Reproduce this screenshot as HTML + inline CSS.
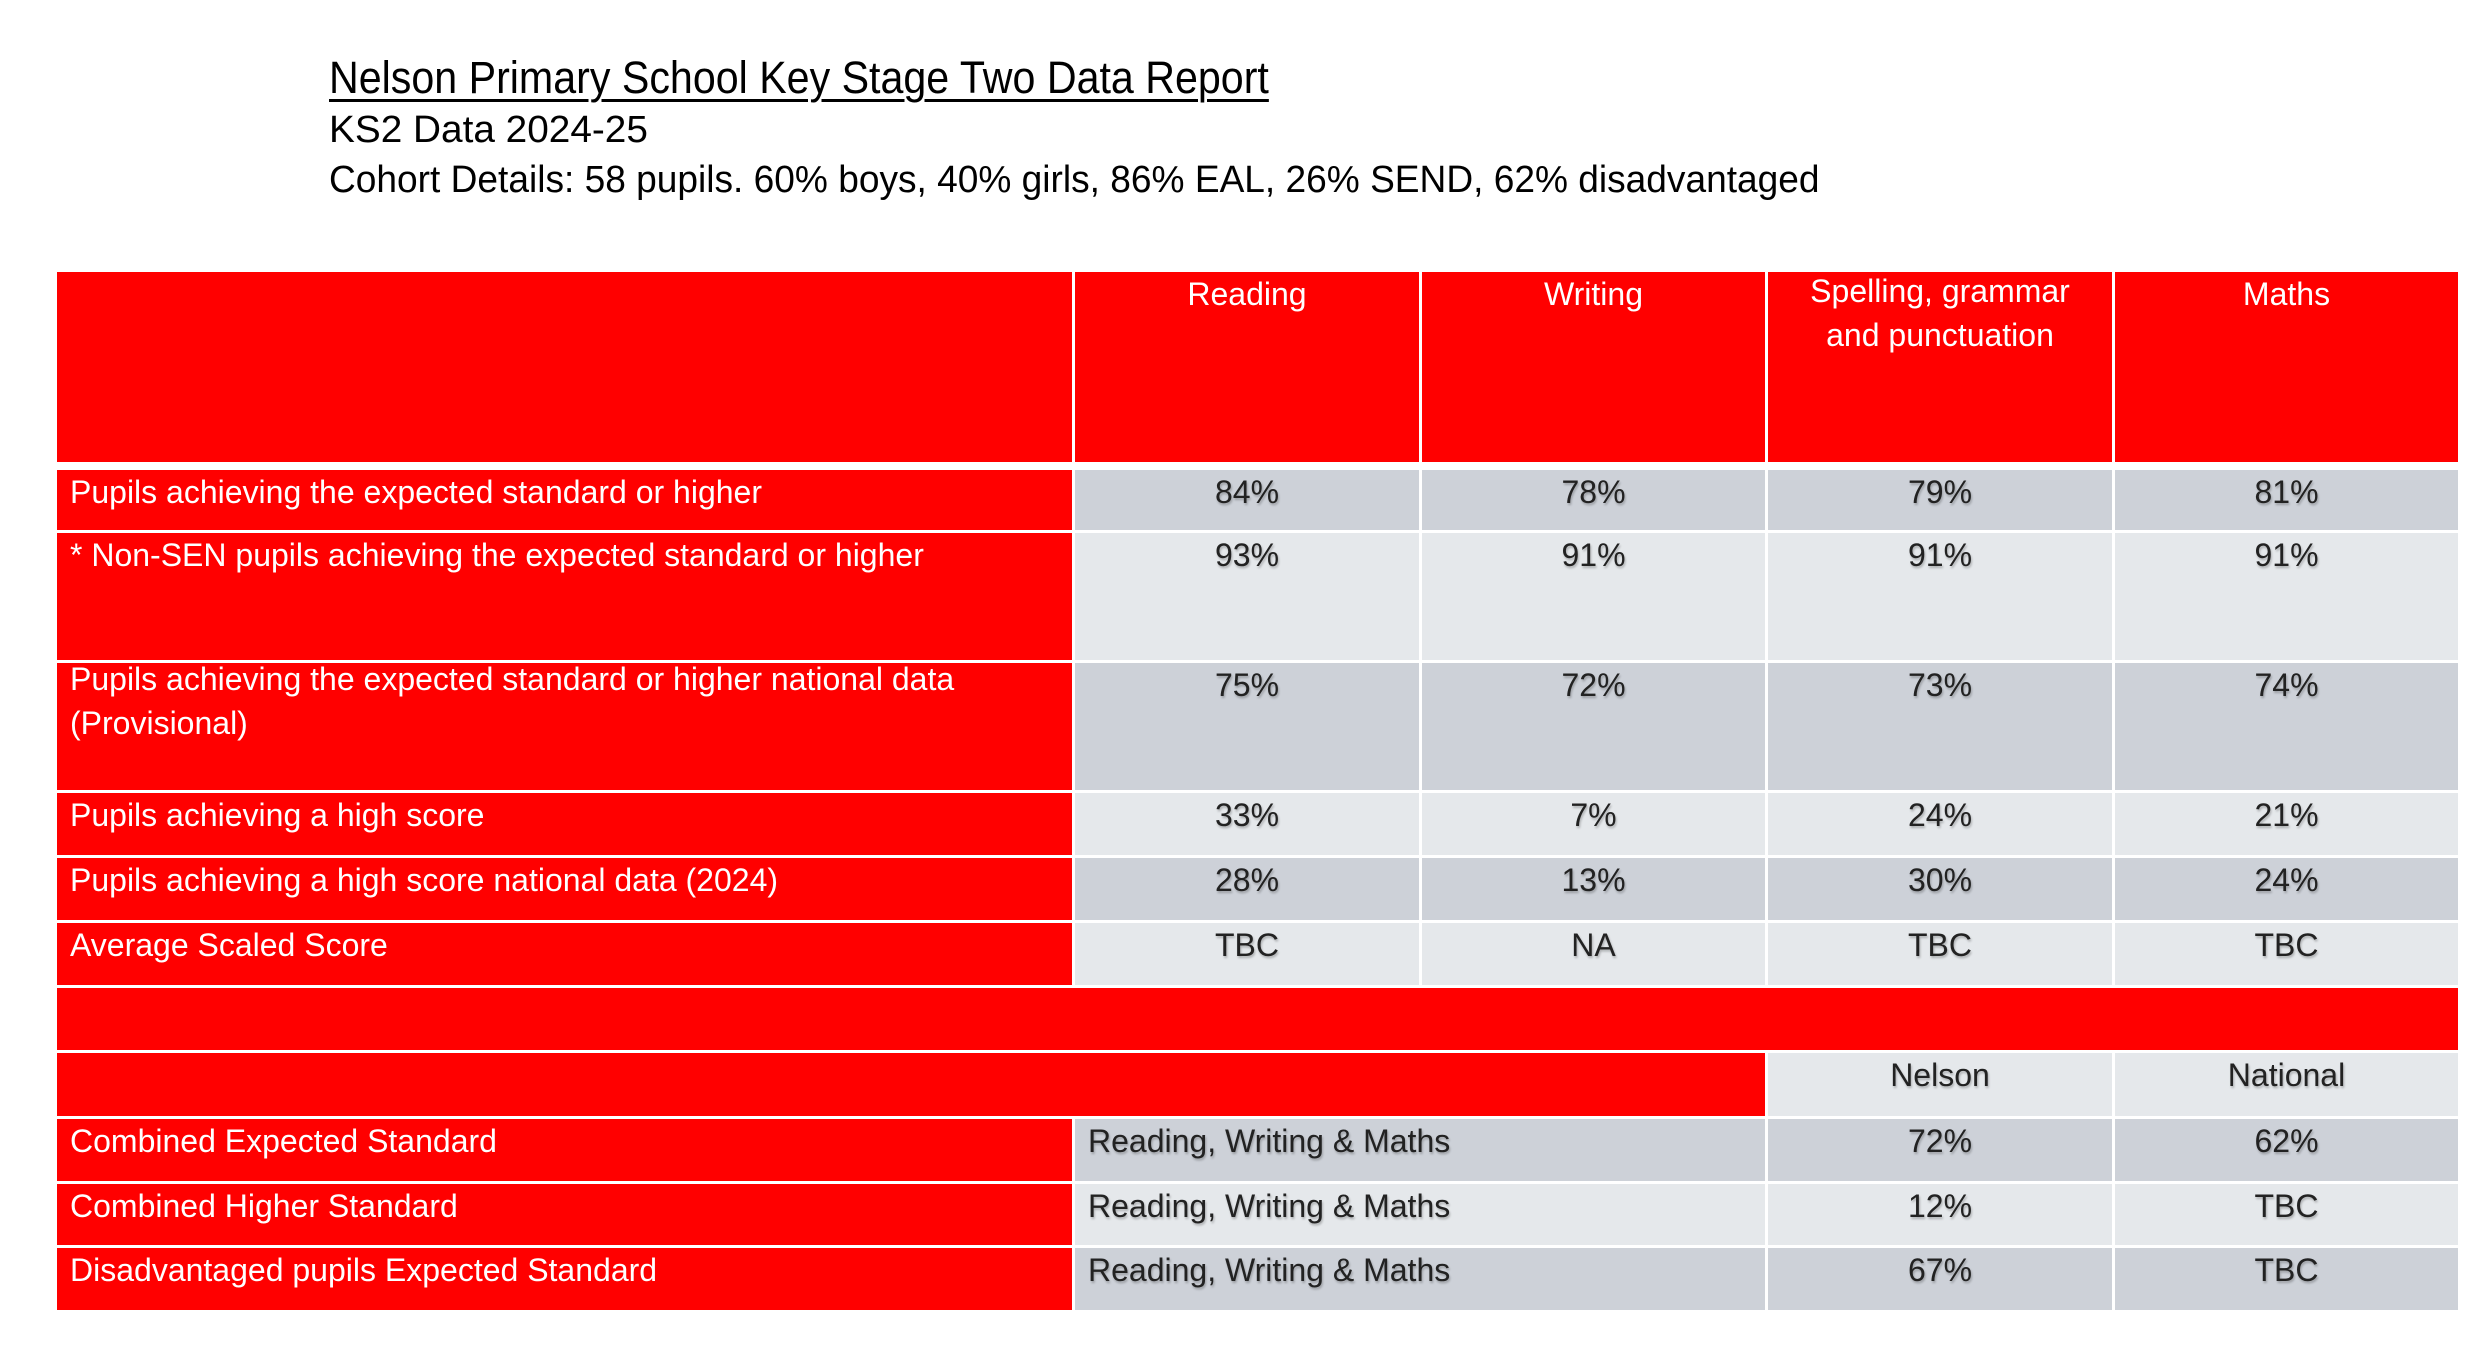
<!DOCTYPE html>
<html><head><meta charset="utf-8"><style>
body{margin:0;width:2480px;height:1362px;background:#fff;position:relative;overflow:hidden;font-family:"Liberation Sans",sans-serif}
.t{position:absolute;left:329px;white-space:nowrap;color:#000;transform-origin:left top}
.c{position:absolute;box-sizing:border-box;font-size:32px;line-height:44px;padding-top:0;overflow:visible}
.c>span{display:inline-block;white-space:nowrap}
.r{background:#ff0000;color:#fff;padding-left:13px}
.g{background:#cdd1d8;color:#222;text-align:center}
.l{background:#e5e8eb;color:#222;text-align:center}
.g>span,.l>span{text-shadow:1px 2px 2px rgba(0,0,0,0.25)}
.left{text-align:left;padding-left:13px}
.in{margin-top:-6px}
</style></head><body>
<div class="t" style="top:52px;font-size:45px;transform:scaleX(0.915);text-decoration:underline;text-decoration-thickness:3px;text-underline-offset:6px">Nelson Primary School Key Stage Two Data Report</div>
<div class="t" style="top:109px;font-size:38px;transform:scaleX(1.02)">KS2 Data 2024-25</div>
<div class="t" style="top:159px;font-size:38px;transform:scaleX(0.976)">Cohort Details: 58 pupils. 60% boys, 40% girls, 86% EAL, 26% SEND, 62% disadvantaged</div>

<div class="c r" style="left:57px;top:272px;width:1015px;height:190px"></div>
<div class="c r" style="left:1075px;top:272px;width:344px;height:190px;text-align:center;padding:0"><span class="in">Reading</span></div>
<div class="c r" style="left:1422px;top:272px;width:343px;height:190px;text-align:center;padding:0"><span class="in">Writing</span></div>
<div class="c r" style="left:1768px;top:272px;width:344px;height:190px;text-align:center;padding:0"><span class="in" style="margin-top:-3px">Spelling, grammar<br>and punctuation</span></div>
<div class="c r" style="left:2115px;top:272px;width:343px;height:190px;text-align:center;padding:0"><span class="in">Maths</span></div>

<div class="c r" style="left:57px;top:470px;width:1015px;height:60px"><span class="in">Pupils achieving the expected standard or higher</span></div>
<div class="c g" style="left:1075px;top:470px;width:344px;height:60px"><span class="in">84%</span></div>
<div class="c g" style="left:1422px;top:470px;width:343px;height:60px"><span class="in">78%</span></div>
<div class="c g" style="left:1768px;top:470px;width:344px;height:60px"><span class="in">79%</span></div>
<div class="c g" style="left:2115px;top:470px;width:343px;height:60px"><span class="in">81%</span></div>

<div class="c r" style="left:57px;top:533px;width:1015px;height:127px"><span class="in">* Non-SEN pupils achieving the expected standard or higher</span></div>
<div class="c l" style="left:1075px;top:533px;width:344px;height:127px"><span class="in">93%</span></div>
<div class="c l" style="left:1422px;top:533px;width:343px;height:127px"><span class="in">91%</span></div>
<div class="c l" style="left:1768px;top:533px;width:344px;height:127px"><span class="in">91%</span></div>
<div class="c l" style="left:2115px;top:533px;width:343px;height:127px"><span class="in">91%</span></div>

<div class="c r" style="left:57px;top:663px;width:1015px;height:127px"><span class="in">Pupils achieving the expected standard or higher national data<br>(Provisional)</span></div>
<div class="c g" style="left:1075px;top:663px;width:344px;height:127px"><span class="in">75%</span></div>
<div class="c g" style="left:1422px;top:663px;width:343px;height:127px"><span class="in">72%</span></div>
<div class="c g" style="left:1768px;top:663px;width:344px;height:127px"><span class="in">73%</span></div>
<div class="c g" style="left:2115px;top:663px;width:343px;height:127px"><span class="in">74%</span></div>

<div class="c r" style="left:57px;top:793px;width:1015px;height:62px"><span class="in">Pupils achieving a high score</span></div>
<div class="c l" style="left:1075px;top:793px;width:344px;height:62px"><span class="in">33%</span></div>
<div class="c l" style="left:1422px;top:793px;width:343px;height:62px"><span class="in">7%</span></div>
<div class="c l" style="left:1768px;top:793px;width:344px;height:62px"><span class="in">24%</span></div>
<div class="c l" style="left:2115px;top:793px;width:343px;height:62px"><span class="in">21%</span></div>

<div class="c r" style="left:57px;top:858px;width:1015px;height:62px"><span class="in">Pupils achieving a high score national data (2024)</span></div>
<div class="c g" style="left:1075px;top:858px;width:344px;height:62px"><span class="in">28%</span></div>
<div class="c g" style="left:1422px;top:858px;width:343px;height:62px"><span class="in">13%</span></div>
<div class="c g" style="left:1768px;top:858px;width:344px;height:62px"><span class="in">30%</span></div>
<div class="c g" style="left:2115px;top:858px;width:343px;height:62px"><span class="in">24%</span></div>

<div class="c r" style="left:57px;top:923px;width:1015px;height:62px"><span class="in">Average Scaled Score</span></div>
<div class="c l" style="left:1075px;top:923px;width:344px;height:62px"><span class="in">TBC</span></div>
<div class="c l" style="left:1422px;top:923px;width:343px;height:62px"><span class="in">NA</span></div>
<div class="c l" style="left:1768px;top:923px;width:344px;height:62px"><span class="in">TBC</span></div>
<div class="c l" style="left:2115px;top:923px;width:343px;height:62px"><span class="in">TBC</span></div>

<div class="c r" style="left:57px;top:988px;width:2401px;height:62px"></div>

<div class="c r" style="left:57px;top:1053px;width:1708px;height:63px"></div>
<div class="c l" style="left:1768px;top:1053px;width:344px;height:63px"><span class="in">Nelson</span></div>
<div class="c l" style="left:2115px;top:1053px;width:343px;height:63px"><span class="in">National</span></div>

<div class="c r" style="left:57px;top:1119px;width:1015px;height:62px"><span class="in">Combined Expected Standard</span></div>
<div class="c g left" style="left:1075px;top:1119px;width:690px;height:62px"><span class="in">Reading, Writing &amp; Maths</span></div>
<div class="c g" style="left:1768px;top:1119px;width:344px;height:62px"><span class="in">72%</span></div>
<div class="c g" style="left:2115px;top:1119px;width:343px;height:62px"><span class="in">62%</span></div>

<div class="c r" style="left:57px;top:1184px;width:1015px;height:61px"><span class="in">Combined Higher Standard</span></div>
<div class="c l left" style="left:1075px;top:1184px;width:690px;height:61px"><span class="in">Reading, Writing &amp; Maths</span></div>
<div class="c l" style="left:1768px;top:1184px;width:344px;height:61px"><span class="in">12%</span></div>
<div class="c l" style="left:2115px;top:1184px;width:343px;height:61px"><span class="in">TBC</span></div>

<div class="c r" style="left:57px;top:1248px;width:1015px;height:62px"><span class="in">Disadvantaged pupils Expected Standard</span></div>
<div class="c g left" style="left:1075px;top:1248px;width:690px;height:62px"><span class="in">Reading, Writing &amp; Maths</span></div>
<div class="c g" style="left:1768px;top:1248px;width:344px;height:62px"><span class="in">67%</span></div>
<div class="c g" style="left:2115px;top:1248px;width:343px;height:62px"><span class="in">TBC</span></div>
</body></html>
